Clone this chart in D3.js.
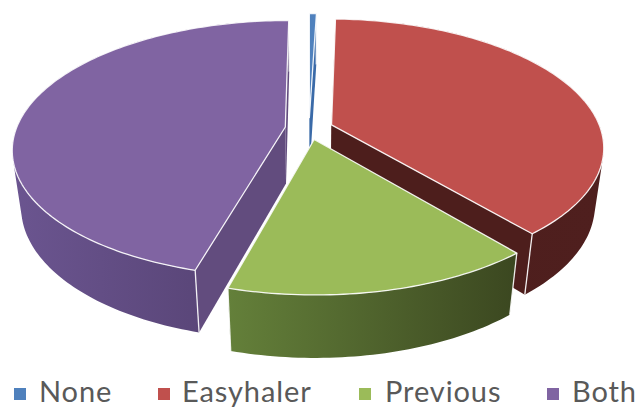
<!DOCTYPE html>
<html>
<head>
<meta charset="utf-8">
<script src="https://cdn.jsdelivr.net/npm/d3@7"></script>
<style>
html,body{margin:0;padding:0;background:#fff;}
svg{display:block;}
</style>
</head>
<body>
<div id="ChartPart"></div>
<script>
//Chart data
var categories = ["None","Easyhaler","Previous","Both"];
var seriesValues = [0.5,38.4,15.4,45.7];

//Colours of every slice: top, radial wall, outer wall left and right
var topColours = ["#4F81BD","#C0504D","#9BBB59","#8064A2"];
var radialColours = ["#3A6AA8","#4D1E1C","#3F4C22","#624C7E"];
var wallLeftColours = ["#3A6AA8","#4D1E1C","#64803A","#6B5590"];
var wallRightColours = ["#3A6AA8","#4F1F1E","#3B4720","#523F6E"];

//Layout
var chartWidth = 638, chartHeight = 408;
var centerX = 309, centerY = 128.5;
var scaleX = 269, scaleY = 125, depthY = 58.3;
var tiltK = 0.169, depthK = 0.03;
var explode = 0.089;
var legendSwatchX = [14,158,359,547];
var legendTextX = [39,182,385,572];

var svg = d3.select("#ChartPart")
	.append("svg")
	.attr("width",chartWidth)
	.attr("height",chartHeight);
var defs = svg.append("defs");

var colourScale = d3.scaleOrdinal().domain(categories).range(topColours);
var pie = d3.pie().sort(null).value(function(d){ return d; });
var slices = pie(seriesValues);

//Perspective: X to the right, Y to the viewer, Z down
function Project(X,Y,Z)
{
	var w = 1 - tiltK*Y + depthK*Z;
	return [centerX + scaleX*X/w, centerY + (scaleY*Y + depthY*Z)/w];
}

function RimPoint(angle,slice,Z)
{
	var mid = (slice.startAngle + slice.endAngle)/2;
	var X = Math.sin(angle) + explode*Math.sin(mid);
	var Y = -Math.cos(angle) - explode*Math.cos(mid);
	return Project(X,Y,Z);
}

function ApexPoint(slice,Z)
{
	var mid = (slice.startAngle + slice.endAngle)/2;
	return Project(explode*Math.sin(mid),-explode*Math.cos(mid),Z);
}

function RimAngles(slice)
{
	var steps = Math.max(2,Math.ceil((slice.endAngle - slice.startAngle)/0.02));
	return d3.range(steps + 1).map(function(i){
		return slice.startAngle + (slice.endAngle - slice.startAngle)*i/steps;
	});
}

var line = d3.line();

//One strip of quads for the outer wall, all turned the same way so the silhouette stays filled
function WallPath(topRim,bottomRim)
{
	var path = "";
	for(var j=0;j<topRim.length-1;j++)
		{
			var quad = [topRim[j],topRim[j+1],bottomRim[j+1],bottomRim[j]];
			if(d3.polygonArea(quad)<0)
				{
					quad.reverse();
				}
			path = path + line(quad) + "Z";
		}
	return path;
}

function DrawSlice(slice)
{
	var i = slice.index;
	var angles = RimAngles(slice);
	var topRim = angles.map(function(a){ return RimPoint(a,slice,0); });
	var bottomRim = angles.map(function(a){ return RimPoint(a,slice,1); });
	var group = svg.append("g").attr("class","slice");

	//gradient along the outer wall
	var gradient = defs.append("linearGradient")
		.attr("id","wall" + i)
		.attr("gradientUnits","userSpaceOnUse")
		.attr("x1",d3.min(topRim,function(p){ return p[0]; }))
		.attr("x2",d3.max(topRim,function(p){ return p[0]; }))
		.attr("y1",0)
		.attr("y2",0);
	gradient.append("stop").attr("offset","0%").attr("stop-color",wallLeftColours[i]);
	gradient.append("stop").attr("offset","100%").attr("stop-color",wallRightColours[i]);

	//radial walls
	[slice.startAngle,slice.endAngle].forEach(function(a){
		group.append("path")
			.attr("d",line([ApexPoint(slice,0),RimPoint(a,slice,0),RimPoint(a,slice,1),ApexPoint(slice,1)]) + "Z")
			.attr("fill",radialColours[i]);
	});

	//outer wall
	group.append("path")
		.attr("d",WallPath(topRim,bottomRim))
		.attr("fill","url(#wall" + i + ")");

	//edges of the walls
	[slice.startAngle,slice.endAngle].forEach(function(a){
		group.append("path")
			.attr("d",line([RimPoint(a,slice,0),RimPoint(a,slice,1)]))
			.attr("fill","none")
			.attr("stroke","#fff")
			.attr("stroke-opacity",0.9)
			.attr("stroke-width",1.3);
	});

	//top face
	group.append("path")
		.attr("d",line([ApexPoint(slice,0)].concat(topRim)) + "Z")
		.attr("fill",colourScale(categories[i]))
		.attr("stroke","#fff")
		.attr("stroke-opacity",0.9)
		.attr("stroke-width",1.3)
		.attr("stroke-linejoin","round");
}

//Back to front
[0,1,3,2].forEach(function(i){
	DrawSlice(slices[i]);
});

//Legend
var legend = svg.selectAll("g.legend")
	.data(categories)
	.enter()
	.append("g")
	.attr("class","legend");

legend.append("rect")
	.attr("x",function(d,i){ return legendSwatchX[i]; })
	.attr("y",388)
	.attr("width",12)
	.attr("height",12)
	.attr("fill",function(d){ return colourScale(d); });

legend.append("text")
	.attr("x",function(d,i){ return legendTextX[i]; })
	.attr("y",402)
	.attr("fill","#595959")
	.style("font-family","Lato, 'Open Sans', sans-serif")
	.style("font-size","29px")
	.style("letter-spacing","0.9px")
	.text(function(d){ return d; });
</script>
</body>
</html>
